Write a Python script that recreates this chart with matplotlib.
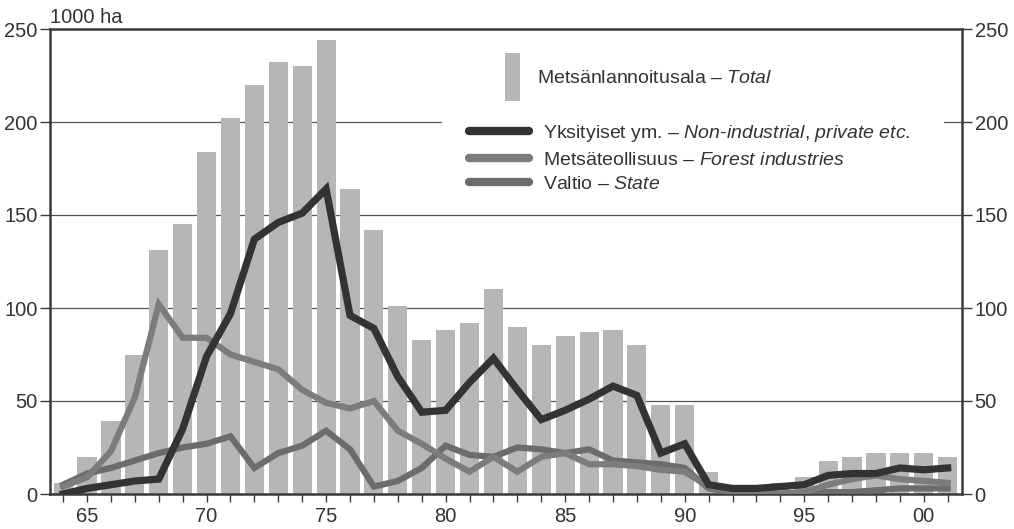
import matplotlib
matplotlib.use("Agg")
import matplotlib.pyplot as plt
from matplotlib.patches import Patch
from matplotlib.lines import Line2D

plt.rcParams['font.family'] = ['Liberation Sans', 'DejaVu Sans']
plt.rcParams['mathtext.fontset'] = 'custom'
plt.rcParams['mathtext.rm'] = 'Liberation Sans'
plt.rcParams['mathtext.it'] = 'Liberation Sans:italic'

years = list(range(1964, 2002))

total = [6, 20, 39, 75, 131, 145, 184, 202, 220, 232, 230, 244, 164, 142,
         101, 83, 88, 92, 110, 90, 80, 85, 87, 88, 80, 48, 48, 12,
         2, 3, 6, 9, 18, 20, 22, 22, 22, 20]

private = [0, 3, 5, 7, 8, 35, 74, 97, 137, 146, 151, 164, 96, 89,
           63, 44, 45, 60, 73, 56, 40, 45, 51, 58, 53, 22, 27, 5,
           3, 3, 4, 5, 10, 11, 11, 14, 13, 14]

forest = [4, 9, 23, 52, 102, 84, 84, 75, 71, 67, 56, 49, 46, 50,
          34, 27, 19, 12, 20, 12, 20, 22, 16, 16, 15, 13, 12, 4,
          1, 0, 0, 1, 5, 8, 10, 8, 7, 6]

state = [5, 11, 14, 18, 22, 25, 27, 31, 14, 22, 26, 34, 24, 4,
         7, 14, 26, 21, 20, 25, 24, 22, 24, 18, 17, 16, 14, 3,
         1, 0, 0, 1, 1, 1, 2, 3, 3, 3]

xlabels = ["65", "70", "75", "80", "85", "90", "95", "00"]
xlabel_years = [1965, 1970, 1975, 1980, 1985, 1990, 1995, 2000]

c_bar = "#b6b6b6"
c_priv = "#333333"
c_forest = "#7c7c7c"
c_state = "#6c6c6c"
c_axis = "#3a3a3a"

fig = plt.figure(figsize=(10.14, 5.29), dpi=100)
ax = fig.add_axes([50/1014, 1 - 494/529, 912/1014, 465/529])

ax.bar(years, total, width=0.8, color=c_bar, zorder=2)
ax.plot(years, state, color=c_state, lw=4.5, zorder=3, solid_joinstyle="miter")
ax.plot(years, forest, color=c_forest, lw=4.5, zorder=4, solid_joinstyle="miter")
ax.plot(years, private, color=c_priv, lw=5.2, zorder=5, solid_joinstyle="miter")

ax.set_xlim(1963.45, 2001.6)
ax.set_ylim(0, 250)
ax.set_yticks([0, 50, 100, 150, 200, 250])
ax.yaxis.grid(True, color="#555555", lw=0.9, zorder=1)
ax.set_axisbelow(True)
ax.set_xticks(years, minor=True)
ax.set_xticks(xlabel_years)
ax.set_xticklabels(xlabels)
ax.tick_params(axis="x", which="both", direction="out", length=6, width=1, color=c_axis)
ax.tick_params(axis="y", which="both", direction="out", length=7, width=1, color=c_axis,
               left=True, right=True, labelleft=True, labelright=True, pad=2)
ax.tick_params(labelsize=14.5, labelcolor="#333333")
for s in ax.spines.values():
    s.set_color(c_axis)
    s.set_linewidth(1.8)

ax.text(0.0, 1.005, "1000 ha", transform=ax.transAxes, fontsize=14.5, color="#333333",
        ha="left", va="bottom")

# white box behind legend
ax.add_patch(plt.Rectangle((0.43, 0.62), 0.55, 0.36, transform=ax.transAxes,
                           facecolor="white", edgecolor="none", zorder=1.5))

h_bar = [Patch(facecolor=c_bar, edgecolor="none")]
leg1 = ax.legend(h_bar, ["Metsänlannoitusala – $\\it{Total}$"], loc="upper left",
                 bbox_to_anchor=(0.48, 0.985), frameon=False, fontsize=14,
                 handlelength=0.75, handleheight=3.4, handletextpad=0.9,
                 labelcolor="#333333")
ax.add_artist(leg1)

h_lines = [Line2D([], [], color=c_priv, lw=6, solid_capstyle="round"),
           Line2D([], [], color=c_forest, lw=6, solid_capstyle="round"),
           Line2D([], [], color=c_state, lw=6, solid_capstyle="round")]
labels = ["Yksityiset ym. – $\\it{Non\\text{-}industrial{,}\\ private\\ etc.}$",
          "Metsäteollisuus – $\\it{Forest\\ industries}$",
          "Valtio – $\\it{State}$"]
ax.legend(h_lines, labels, loc="upper left", bbox_to_anchor=(0.44, 0.835),
          frameon=False, fontsize=14, handlelength=3.1, handletextpad=0.7,
          labelspacing=0.35, labelcolor="#333333")

fig.savefig("out.png", dpi=100)
